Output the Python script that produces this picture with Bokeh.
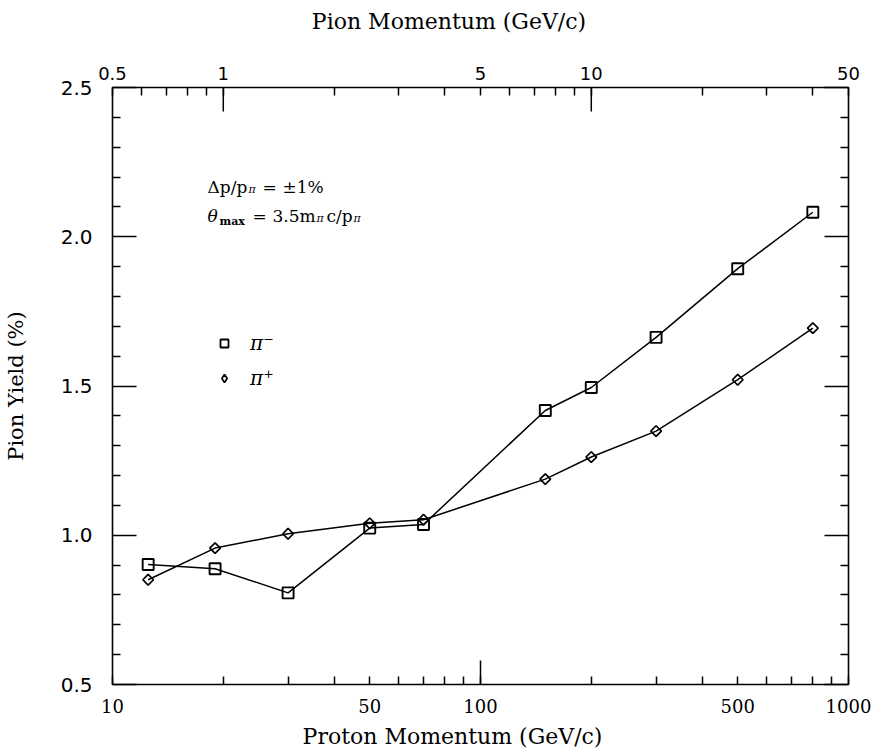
import math
from bokeh.plotting import figure
from bokeh.models import (LogAxis, LinearAxis, Range1d, LogScale, FixedTicker,
                          CustomJSTickFormatter, Label, Legend, LegendItem)
from bokeh.embed import file_html
from bokeh.resources import INLINE

# ---------------- data ----------------
proton_momentum = [12.5, 19, 30, 50, 70, 150, 200, 300, 500, 800]
yield_pi_minus = [0.902, 0.888, 0.807, 1.024, 1.036, 1.418, 1.495, 1.663, 1.893, 2.082]
yield_pi_plus = [0.851, 0.957, 1.005, 1.040, 1.052, 1.188, 1.262, 1.349, 1.521, 1.694]

proton_ticks = [10, 50, 100, 500, 1000]
proton_minor_ticks = [20, 30, 40, 60, 70, 80, 90, 200, 300, 400, 600, 700, 800, 900]
proton_decade_ticks = [100]
pion_ticks = [0.5, 1, 5, 10, 50]
pion_minor_ticks = [0.6, 0.7, 0.8, 0.9, 2, 3, 4, 6, 7, 8, 9, 20, 30, 40]
pion_decade_ticks = [1, 10]
yield_ticks = [0.5, 1.0, 1.5, 2.0, 2.5]
yield_minor_ticks = [0.6, 0.7, 0.8, 0.9, 1.1, 1.2, 1.3, 1.4, 1.6, 1.7, 1.8, 1.9,
                     2.1, 2.2, 2.3, 2.4]

# ---------------- layout ----------------
W, H = 872, 751
BL, BR, BT, BB = 110, 24, 87, 67
FW, FH = W - BL - BR, H - BT - BB
LONG_TICK = 24
SHORT_TICK = 8
NBSP = "\u00a0"

p = figure(width=W, height=H, x_axis_type="log",
           x_range=Range1d(10, 1000), y_range=Range1d(0.5, 2.5),
           output_backend="svg", toolbar_location=None,
           min_border_left=BL, min_border_right=BR,
           min_border_top=BT, min_border_bottom=BB)
p.grid.visible = False
p.outline_line_color = "black"
p.outline_line_width = 1.6
p.background_fill_color = "white"
p.border_fill_color = "white"
p.extra_x_ranges = {"pion": Range1d(0.5, 50)}
p.extra_x_scales = {"pion": LogScale()}


def style_axis(ax, font, size, standoff, major_len):
    ax.axis_line_color = None
    ax.major_tick_in = major_len
    ax.major_tick_out = 0
    ax.minor_tick_in = SHORT_TICK
    ax.minor_tick_out = 0
    ax.major_tick_line_color = "black"
    ax.minor_tick_line_color = "black"
    ax.major_tick_line_width = 1.5
    ax.minor_tick_line_width = 1.5
    ax.major_label_text_font = font
    ax.major_label_text_font_size = size
    ax.major_label_text_color = "black"
    ax.major_label_standoff = standoff


def style_title(ax, text, size, standoff):
    ax.axis_label = text
    ax.axis_label_text_font = "DejaVu Serif"
    ax.axis_label_text_font_size = size
    ax.axis_label_text_font_style = "normal"
    ax.axis_label_text_color = "black"
    ax.axis_label_standoff = standoff


# bottom axis (proton momentum)
xb = p.xaxis[0]
xb.ticker = FixedTicker(ticks=proton_ticks, minor_ticks=proton_minor_ticks)
xb.formatter = CustomJSTickFormatter(code="return tick.toString()")
style_axis(xb, "DejaVu Serif", "18px", 14, SHORT_TICK)
style_title(xb, "Proton Momentum (GeV/c)" + NBSP * 8, "22px", 8)

# top axis (pion momentum)
xt = LogAxis(x_range_name="pion",
             ticker=FixedTicker(ticks=pion_ticks, minor_ticks=pion_minor_ticks),
             formatter=CustomJSTickFormatter(code="return tick.toString()"))
style_axis(xt, "DejaVu Sans", "18px", 8, SHORT_TICK)
style_title(xt, "Pion Momentum (GeV/c)" + NBSP * 9, "22px", 30)
p.add_layout(xt, "above")

# left axis
yl = p.yaxis[0]
yl.ticker = FixedTicker(ticks=yield_ticks, minor_ticks=yield_minor_ticks)
yl.formatter = CustomJSTickFormatter(code="return tick.toFixed(1)")
style_axis(yl, "DejaVu Sans", "20px", 20, LONG_TICK)
style_title(yl, "Pion Yield (%)", "21px", 30)

# right axis (ticks only)
yr = LinearAxis(ticker=FixedTicker(ticks=yield_ticks, minor_ticks=yield_minor_ticks),
                formatter=CustomJSTickFormatter(code="return ''"))
style_axis(yr, "DejaVu Sans", "1px", 0, LONG_TICK)
p.add_layout(yr, "right")

# long decade ticks on the bottom / top axes
y0, y1 = p.y_range.start, p.y_range.end
dy = LONG_TICK * (y1 - y0) / FH
p.segment(x0=proton_decade_ticks, y0=[y0] * len(proton_decade_ticks),
          x1=proton_decade_ticks, y1=[y0 + dy] * len(proton_decade_ticks),
          line_color="black", line_width=1.5)
p.segment(x0=pion_decade_ticks, y0=[y1] * len(pion_decade_ticks),
          x1=pion_decade_ticks, y1=[y1 - dy] * len(pion_decade_ticks),
          line_color="black", line_width=1.5, x_range_name="pion")

# ---------------- series ----------------
p.line(proton_momentum, yield_pi_minus, line_color="black", line_width=1.5)
p.scatter(proton_momentum, yield_pi_minus, marker="square", size=11,
          fill_alpha=0, line_color="black", line_width=1.9)
p.line(proton_momentum, yield_pi_plus, line_color="black", line_width=1.5)
p.scatter(proton_momentum, yield_pi_plus, marker="square", size=7.5,
          angle=math.pi / 4, fill_alpha=0, line_color="black", line_width=1.7)

# legend keys (hidden renderers of the same data, used only for the legend symbols)
key_minus = p.scatter(proton_momentum, yield_pi_minus, marker="square", size=10,
                      fill_alpha=0, line_color="black", line_width=1.8, visible=False)
key_plus = p.scatter(proton_momentum, yield_pi_plus, marker="diamond", size=12,
                     fill_alpha=0, line_color="black", line_width=1.7, visible=False)

legend = Legend(items=[LegendItem(label="π⁻", renderers=[key_minus]),
                       LegendItem(label="π⁺", renderers=[key_plus])],
                location=(102, 294), padding=0, margin=0, spacing=11,
                glyph_width=20, glyph_height=24, label_height=24, label_standoff=16,
                border_line_color=None, background_fill_alpha=0,
                inactive_fill_alpha=0,
                label_text_font="DejaVu Serif", label_text_font_size="20px",
                label_text_font_style="italic", label_text_color="black")
p.add_layout(legend, "center")


# ---------------- annotation texts ----------------
def add_text(x, y, text, size="17px", style="normal"):
    p.add_layout(Label(x=x, y=y, x_units="screen", y_units="screen", text=text,
                       text_font="DejaVu Serif", text_font_size=size,
                       text_font_style=style, text_color="black",
                       text_align="left", text_baseline="alphabetic"))


ax0 = 95
# line 1: Δp/pπ = ±1%
b1 = FH - (186 - BT)
add_text(ax0, b1, "Δp/p")
add_text(ax0 + 41, b1 - 3, "π", size="11px", style="italic")
add_text(ax0 + 55, b1, "=")
add_text(ax0 + 75, b1, "±1%")

# line 2: θmax = 3.5mπc/pπ
b2 = FH - (215 - BT)
add_text(ax0, b2, "θ", style="italic")
add_text(ax0 + 12, b2 - 6, "max", size="11px", style="bold")
add_text(ax0 + 45, b2, "=")
add_text(ax0 + 65, b2, "3.5m")
add_text(ax0 + 109, b2 - 3, "π", size="11px", style="italic")
add_text(ax0 + 119, b2, "c/p")
add_text(ax0 + 146, b2 - 3, "π", size="11px", style="italic")

open("out.html", "w").write(file_html(p, INLINE))
